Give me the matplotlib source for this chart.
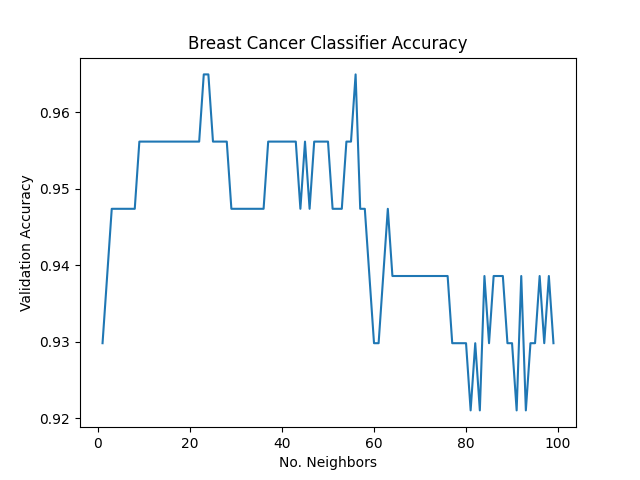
import matplotlib
matplotlib.use("Agg")
import matplotlib.pyplot as plt

# k values for the KNN classifier
k_values = list(range(1, 100))

# validation accuracy (one per k)
accuracies = [
    0.929825, 0.938596, 0.947368, 0.947368, 0.947368, 0.947368, 0.947368, 0.947368,
    0.956140, 0.956140, 0.956140, 0.956140, 0.956140, 0.956140, 0.956140, 0.956140,
    0.956140, 0.956140, 0.956140, 0.956140, 0.956140, 0.956140,
    0.964912, 0.964912,
    0.956140, 0.956140, 0.956140, 0.956140,
    0.947368, 0.947368, 0.947368, 0.947368, 0.947368, 0.947368, 0.947368, 0.947368,
    0.956140, 0.956140, 0.956140, 0.956140, 0.956140, 0.956140, 0.956140,
    0.947368, 0.956140, 0.947368,
    0.956140, 0.956140, 0.956140, 0.956140,
    0.947368, 0.947368, 0.947368,
    0.956140, 0.956140, 0.964912,
    0.947368, 0.947368, 0.938596, 0.929825, 0.929825, 0.938596, 0.947368,
    0.938596, 0.938596, 0.938596, 0.938596, 0.938596, 0.938596, 0.938596,
    0.938596, 0.938596, 0.938596, 0.938596, 0.938596, 0.938596,
    0.929825, 0.929825, 0.929825, 0.929825,
    0.921053, 0.929825, 0.921053, 0.938596, 0.929825,
    0.938596, 0.938596, 0.938596,
    0.929825, 0.929825, 0.921053, 0.938596, 0.921053,
    0.929825, 0.929825, 0.938596, 0.929825, 0.938596, 0.929825,
]

fig, ax = plt.subplots(figsize=(6.4, 4.8), dpi=100)
ax.plot(k_values, accuracies)
ax.set_title("Breast Cancer Classifier Accuracy")
ax.set_xlabel("No. Neighbors")
ax.set_ylabel("Validation Accuracy")
fig.savefig("out.png")
plt.close(fig)
